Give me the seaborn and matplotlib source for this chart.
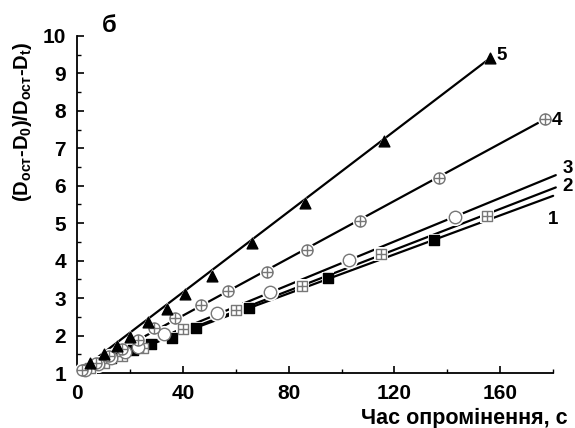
import numpy as np
import pandas as pd
import matplotlib
matplotlib.use("Agg")
import matplotlib.pyplot as plt
from matplotlib.path import Path
import seaborn as sns

# ---- data ----
x1 = [13, 21, 28, 36, 45, 65, 95, 135]
y1 = [1.40, 1.61, 1.77, 1.93, 2.20, 2.73, 3.53, 4.56]
x2 = [5, 10, 17, 25, 40, 60, 85, 115, 155]
y2 = [1.13, 1.27, 1.45, 1.68, 2.17, 2.68, 3.33, 4.19, 5.20]
x3 = [3, 8, 13, 18, 23, 33, 53, 73, 103, 143]
y3 = [1.08, 1.25, 1.40, 1.55, 1.70, 2.03, 2.60, 3.15, 4.02, 5.16]
x4 = [2, 7, 12, 17, 23, 29, 37, 47, 57, 72, 87, 107, 137, 177]
y4 = [1.08, 1.27, 1.45, 1.65, 1.88, 2.20, 2.46, 2.82, 3.20, 3.70, 4.28, 5.07, 6.20, 7.78]
x5 = [5, 10, 15, 20, 27, 34, 41, 51, 66, 86, 116, 156]
y5 = [1.27, 1.50, 1.73, 1.96, 2.36, 2.71, 3.12, 3.60, 4.46, 5.55, 7.20, 9.40]
line_end = [180, 181, 181, 177, 156]
series_labels = ["1", "2", "3", "4", "5"]
x_ticks = [0, 40, 80, 120, 160]
y_ticks = [1, 2, 3, 4, 5, 6, 7, 8, 9, 10]
x_label = "Час опромінення, с"
y_label = r"(D$_{\mathrm{ост}}$-D$_{\mathrm{0}}$)/D$_{\mathrm{ост}}$-D$_{\mathrm{t}}$)"
panel = "б"

sns.set_style("ticks")
plt.rcParams["font.family"] = ["Liberation Sans", "DejaVu Sans"]
plt.rcParams["font.weight"] = "bold"
plt.rcParams["text.color"] = "black"
plt.rcParams["axes.labelcolor"] = "black"
plt.rcParams["xtick.color"] = "black"
plt.rcParams["ytick.color"] = "black"
plt.rcParams["axes.edgecolor"] = "black"
plt.rcParams["mathtext.fontset"] = "custom"
plt.rcParams["mathtext.rm"] = "Liberation Sans:bold"
plt.rcParams["mathtext.it"] = "Liberation Sans:bold"
plt.rcParams["mathtext.bf"] = "Liberation Sans:bold"

fig = plt.figure(figsize=(5.75, 4.28), dpi=100)
ax = fig.add_axes([0.134, 0.1285, 0.828, 0.7875])

plus = Path([(-1, 0), (1, 0), (0, -1), (0, 1)],
            [Path.MOVETO, Path.LINETO, Path.MOVETO, Path.LINETO])
circ_plus = Path.make_compound_path(Path.unit_circle(), plus)
sq = Path.unit_rectangle()
sq = Path((sq.vertices - 0.5) * 2, sq.codes)
sq_plus = Path.make_compound_path(sq, plus)

xs = [x1, x2, x3, x4, x5]
ys = [y1, y2, y3, y4, y5]
styles = [
    dict(marker="s", s=46, fc="black", ec="black", halo="s"),
    dict(marker=sq_plus, s=52, fc="white", ec="#777777", halo="s"),
    dict(marker="o", s=80, fc="white", ec="#777777", halo="o"),
    dict(marker=circ_plus, s=64, fc="white", ec="#777777", halo="o"),
    dict(marker="^", s=60, fc="black", ec="black", halo="^"),
]
label_off = [(-4, -17), (5, 1), (5, 5), (5, -1), (5, 2)]

for i, (xx, yy) in enumerate(zip(xs, ys)):
    k, b = np.polyfit(xx, yy, 1)
    if i >= 3:
        b = 1.0
        k = (yy[-1] - 1.0) / xx[-1]
    xl = np.array([0.0, line_end[i]])
    df = pd.DataFrame({"x": xl, "y": k * xl + b})
    sns.lineplot(data=df, x="x", y="y", ax=ax, color="black", lw=1.6,
                 zorder=2, clip_on=False)
    st = styles[i]
    sns.scatterplot(x=xx, y=yy, ax=ax, marker=st["halo"], s=st["s"] * 1.9,
                    color="white", edgecolor="white", linewidth=0, zorder=3,
                    clip_on=False)
    sns.scatterplot(x=xx, y=yy, ax=ax, marker=st["marker"], s=st["s"],
                    facecolor=st["fc"], edgecolor=st["ec"], linewidth=1.0,
                    zorder=4, clip_on=False)
    ex = line_end[i]
    ey = k * ex + b
    ax.annotate(series_labels[i], xy=(ex, ey), xytext=label_off[i],
                textcoords="offset points", fontsize=13.5, fontweight="bold",
                ha="left", va="center", annotation_clip=False)

ax.set_xlim(0, 180)
ax.set_ylim(1, 10)
ax.set_xticks(x_ticks)
ax.set_yticks(y_ticks)
ax.set_xticks(np.arange(20, 181, 40), minor=True)
ax.set_yticks(np.arange(1.5, 10, 1.0), minor=True)
ax.tick_params(which="major", direction="in", length=5, width=1.2,
               labelsize=15, pad=8)
ax.tick_params(which="minor", direction="in", length=3, width=1.0)
for lab in ax.get_xticklabels() + ax.get_yticklabels():
    lab.set_fontweight("bold")
sns.despine(ax=ax)
for s in ["left", "bottom"]:
    ax.spines[s].set_linewidth(1.3)

ax.set_xlabel(x_label, fontsize=15.5, fontweight="bold")
ax.xaxis.set_label_coords(1.03, -0.105)
ax.xaxis.label.set_ha("right")
ax.set_ylabel(y_label, fontsize=14.5, fontweight="bold")
ax.yaxis.set_label_coords(-0.09, 0.745)
fig.text(0.19, 0.94, panel, fontsize=17, fontweight="bold", ha="center",
         va="center")

fig.savefig("out.png", dpi=100)
